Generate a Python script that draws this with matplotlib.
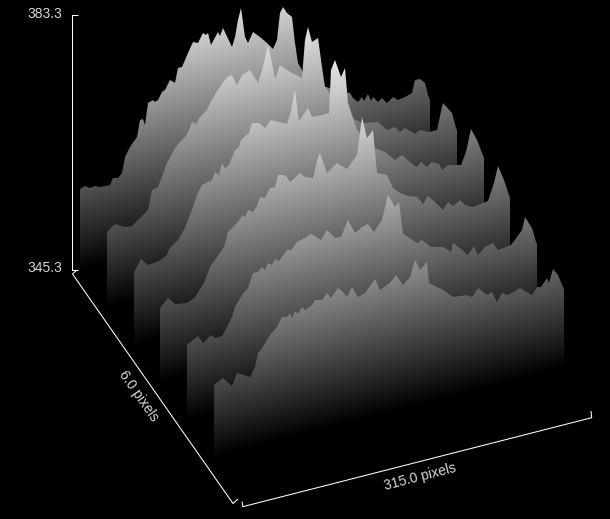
import numpy as np
import matplotlib
matplotlib.use("Agg")
import matplotlib.pyplot as plt
from matplotlib.patches import Polygon

plt.rcParams['font.family'] = ['Liberation Sans', 'DejaVu Sans']

z_min = 345.3
z_max = 383.3
x_size = 315.0
y_size = 6.0

# profile positions and values, back row first
pos0 = [0, 4.5, 9, 13.5, 18, 22.5, 27, 30, 34, 38, 40.5, 45, 51, 54, 57, 58.5, 61, 66, 67.5, 70, 74, 76.5, 81, 85.5, 88, 92, 97, 102, 106, 111, 113, 115, 118, 124, 126, 129, 137, 139.5, 142, 145, 148.5, 151, 156, 162, 168, 174, 177, 180, 183, 186, 191, 193.5, 196, 201, 216, 230, 243, 246, 250, 254, 256, 259, 262, 264, 268, 272, 276, 282, 286, 292.5, 299, 301.5, 306, 310.5, 313, 315]
val0 = [357.4, 357.7, 357.2, 357.3, 357.0, 356.9, 356.9, 357.8, 357.6, 358.2, 360.5, 361.8, 363.0, 365.4, 365.5, 364.5, 367.7, 367.9, 367.6, 367.7, 368.8, 369.0, 370.3, 369.7, 371.8, 371.8, 373.6, 375.1, 374.8, 376.0, 375.7, 375.8, 374.0, 375.7, 374.9, 376.0, 372.8, 374.2, 376.7, 378.4, 373.9, 372.8, 374.3, 373.3, 372.1, 370.9, 372.2, 376.1, 376.9, 375.8, 375.1, 371.0, 367.9, 366.4, 363.8, 362.5, 361.5, 360.6, 359.8, 360.4, 359.7, 360.6, 359.4, 360.0, 359.1, 359.4, 358.5, 359.2, 358.6, 358.8, 359.1, 360.9, 360.9, 360.1, 358.2, 357.3]

pos1 = [0, 7, 16, 23, 30, 37, 41, 46, 54, 61, 66, 70, 73, 77, 80, 84, 90, 95, 102, 108, 113, 117, 122, 129, 136, 140, 145, 148.5, 151, 156, 162, 167, 175.5, 178, 181, 185, 190, 193.5, 196, 201, 214, 221, 230, 244, 252, 259, 264, 268, 277, 282, 289, 297, 301.5, 303, 310.5, 314, 315]
val1 = [356.6, 357.5, 356.6, 356.5, 357.4, 358.3, 361.1, 361.3, 364.6, 366.5, 367.3, 367.8, 368.5, 369.7, 369.3, 370.2, 371.0, 372.5, 374.0, 375.2, 375.2, 373.6, 374.9, 375.4, 373.1, 374.8, 378.4, 375.5, 373.1, 374.9, 373.9, 373.3, 372.2, 377.8, 379.6, 377.2, 377.6, 373.0, 370.0, 368.9, 366.4, 364.2, 363.1, 362.7, 361.2, 361.3, 360.3, 360.7, 359.4, 359.8, 359.2, 359.2, 362.5, 363.0, 361.2, 358.8, 358.5]

pos2 = [0, 7, 13, 23, 30, 32, 40, 46, 50, 53, 57, 62, 71, 73, 77, 80, 82, 86, 91, 95, 97, 104, 107, 113, 118, 124, 138, 142, 145, 149, 157, 161, 170, 176, 178, 181, 187, 190, 193, 201, 217, 226, 235, 242, 250, 255, 259, 264, 269, 275, 278, 283, 295, 299, 304, 309, 315]
val2 = [356.2, 357.9, 356.7, 356.8, 357.4, 358.2, 359.3, 360.8, 362.3, 363.2, 365.3, 366.5, 366.9, 368.0, 367.4, 369.1, 368.3, 368.5, 370.6, 370.9, 371.8, 372.5, 373.9, 373.7, 372.7, 373.6, 372.4, 374.3, 377.3, 372.5, 374.0, 372.5, 372.5, 372.5, 378.8, 380.2, 377.4, 378.7, 373.3, 368.9, 365.5, 364.6, 363.0, 363.4, 361.9, 361.0, 361.6, 360.7, 361.2, 360.6, 359.7, 360.2, 359.7, 361.5, 364.7, 362.8, 359.8]

pos3 = [0, 7, 13.5, 24, 31.5, 39, 45, 51, 57, 61, 65, 69, 74, 76.5, 79, 83, 87, 90, 94.5, 99, 103.5, 106, 111, 114, 117, 121.5, 126, 130.5, 137, 142, 144, 150, 159, 168, 177, 181, 186, 191, 195, 204, 209, 216, 223, 231, 236, 241, 247.5, 254, 259, 263, 270, 274.5, 281, 290, 295, 300, 304, 309, 315]
val3 = [356.4, 357.6, 356.5, 356.2, 356.7, 358.5, 360.6, 361.8, 363.1, 365.2, 365.8, 366.2, 367.1, 366.8, 367.7, 367.3, 368.0, 369.2, 368.8, 370.1, 370.1, 371.8, 371.6, 371.2, 370.3, 370.7, 371.3, 370.4, 370.1, 373.0, 373.4, 370.2, 371.3, 370.1, 371.8, 377.3, 374.0, 374.9, 368.3, 367.6, 365.5, 364.4, 363.7, 363.2, 361.9, 362.9, 361.8, 360.3, 361.3, 360.5, 361.1, 360.1, 359.5, 359.8, 359.8, 362.4, 364.7, 362.4, 359.5]

pos4 = [0, 10, 14, 21, 25, 31.5, 36, 40.5, 43, 49.5, 55, 59, 64, 67.5, 70, 73, 76.5, 79, 83, 90, 93.6, 99, 106, 111, 115, 120, 126, 133, 138, 145, 151, 157.5, 163, 168, 175.5, 181, 187, 191, 194, 196, 207, 211.5, 219, 230, 237, 239, 246, 253, 258, 262, 268, 275, 280, 291, 297, 301, 304, 310.5, 314, 315]
val4 = [356.5, 357.4, 356.1, 357.0, 356.4, 356.5, 357.6, 358.9, 360.3, 361.8, 362.7, 364.7, 364.6, 365.2, 364.7, 365.6, 365.2, 365.9, 365.5, 366.8, 366.7, 367.7, 368.0, 368.3, 367.9, 367.0, 368.3, 366.8, 366.8, 369.0, 366.8, 367.4, 367.7, 366.2, 367.7, 371.2, 369.1, 369.7, 365.0, 364.6, 362.9, 363.2, 361.8, 361.3, 360.3, 361.5, 360.3, 359.2, 360.3, 358.8, 359.7, 360.0, 358.8, 359.1, 360.0, 360.9, 362.7, 360.7, 358.5, 358.2]

pos5 = [0, 8, 16, 21, 32, 37, 40, 43, 50, 57, 61, 66, 68, 70, 73, 76, 79, 82, 88, 91, 97, 102, 105, 112, 116, 120, 124, 130, 136, 145, 149, 158, 164, 170, 176, 181, 185, 192, 193.5, 201, 206, 215, 228, 232, 238, 246, 250, 255, 259, 265, 275, 286, 291, 294, 300, 301.5, 305, 310, 314, 315]
val5 = [356.1, 356.8, 355.3, 357.0, 355.9, 357.2, 359.2, 359.8, 361.5, 362.3, 363.7, 363.4, 364.0, 363.1, 364.1, 363.5, 364.4, 363.8, 364.3, 364.9, 364.6, 365.5, 364.6, 365.8, 365.0, 364.1, 365.5, 363.7, 364.1, 365.8, 364.0, 364.6, 365.6, 363.8, 364.7, 367.1, 365.4, 366.3, 363.1, 362.2, 361.5, 360.1, 359.8, 359.4, 360.5, 359.1, 359.4, 357.6, 358.8, 358.3, 358.9, 357.4, 358.3, 358.3, 359.4, 358.5, 360.4, 359.4, 357.4, 357.2]

rows = [(pos0, val0), (pos1, val1), (pos2, val2), (pos3, val3), (pos4, val4), (pos5, val5)]

# projection of the box onto the 610x519 image
origin = np.array([80.0, 270.0])
x_step = np.array([350.0, -89.5]) / x_size
y_step = np.array([26.8, 37.4])
z_scale = 254.0 / (z_max - z_min)


def project(pos, row, val):
    pos = np.asarray(pos, dtype=float)
    val = np.asarray(val, dtype=float)
    sx = origin[0] + pos * x_step[0] + row * y_step[0]
    sy = origin[1] + pos * x_step[1] + row * y_step[1] - (val - z_min) * z_scale
    return sx, sy


fig = plt.figure(figsize=(6.1, 5.19), dpi=100, facecolor="black")
ax = fig.add_axes([0, 0, 1, 1])
ax.set_xlim(0, 610)
ax.set_ylim(519, 0)
ax.axis("off")

for i, (pos, val) in enumerate(rows):
    # full height sheet, shaded by height above the floor, cut to the profile
    ends = [0, x_size]
    xb, yb = project(ends, i, [z_min, z_min])
    xt, yt = project(ends, i, [z_max, z_max])
    C = np.array([[z_min, z_min], [z_max, z_max]])
    mesh = ax.pcolormesh(np.vstack([xb, xt]), np.vstack([yb, yt]), C, shading="gouraud",
                         cmap="gray", vmin=z_min, vmax=z_max)
    px, py = project(pos, i, val)
    outline = np.column_stack([np.r_[px, xb[1], xb[0]], np.r_[py, yb[1], yb[0]]])
    clip = Polygon(outline, closed=True, transform=ax.transData)
    mesh.set_clip_path(clip)

# box lines
axis_kw = dict(color="white", lw=0.75, solid_capstyle="butt")
ax.plot([78, 71.5, 71.5, 78], [14.5, 14.5, 269.5, 269.5], **axis_kw)
ax.plot([77, 72.5, 233, 238], [270, 274, 503.5, 499], **axis_kw)
ax.plot([242, 242.7, 591.7, 591], [501.5, 506.7, 417.7, 411], **axis_kw)

text_c = "#d8d8d8"
ax.text(62.5, 14.5, f"{z_max:.1f}", color=text_c, fontsize=10, ha="right", va="center")
ax.text(62.5, 268.5, f"{z_min:.1f}", color=text_c, fontsize=10, ha="right", va="center")
ax.text(139, 396, f"{y_size:.1f} pixels", color=text_c, fontsize=10, rotation=-55, rotation_mode="anchor", ha="center", va="center")
ax.text(420, 477, f"{x_size:.1f} pixels", color=text_c, fontsize=10, rotation=14.5, rotation_mode="anchor", ha="center", va="center")

fig.savefig("out.png", dpi=100, facecolor="black")
